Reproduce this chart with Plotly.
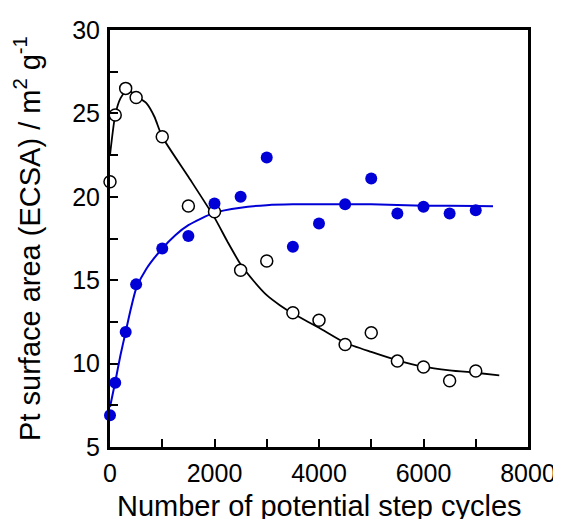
import plotly.graph_objects as go

# Measured data (open circles, black) and (filled circles, blue)
cycles = [0, 100, 300, 500, 1000, 1500, 2000, 2500, 3000, 3500, 4000, 4500, 5000, 5500, 6000, 6500, 7000]
open_ecsa = [20.9, 24.9, 26.5, 25.95, 23.6, 19.45, 19.1, 15.6, 16.15, 13.05, 12.6, 11.15, 11.85, 10.15, 9.8, 8.97, 9.56]
blue_ecsa = [6.9, 8.85, 11.9, 14.75, 16.9, 17.65, 19.6, 20.0, 22.35, 17.0, 18.4, 19.55, 21.1, 19.0, 19.4, 19.0, 19.2]

# Fitted curves
black_fit_x = [0, 100, 200, 300, 400, 500, 700, 850, 1000, 1500, 2000, 2250, 2500, 2750, 3000, 3250, 3500, 4000, 4500, 5000, 5500, 6000, 6500, 7000, 7450]
black_fit_y = [22.5, 24.9, 25.9, 26.3, 26.3, 26.05, 25.6, 24.8, 23.6, 21.2, 18.75, 17.3, 15.95, 14.95, 14.1, 13.5, 13.0, 12.15, 11.25, 10.7, 10.2, 9.82, 9.6, 9.45, 9.3]
blue_fit_x = [0, 100, 200, 300, 400, 500, 700, 1000, 1250, 1500, 2000, 2500, 3000, 3500, 4000, 5000, 6000, 7000, 7330]
blue_fit_y = [7.4, 8.9, 10.5, 11.9, 13.3, 14.5, 15.7, 16.9, 17.7, 18.3, 19.05, 19.35, 19.5, 19.55, 19.55, 19.55, 19.47, 19.45, 19.43]

x_tickvals = [0, 2000, 4000, 6000, 8000]
y_tickvals = [5, 10, 15, 20, 25, 30]
x_title = "Number of potential step cycles"
y_title = "Pt surface area (ECSA) / m<sup>2</sup> g<sup>-1</sup>"

BLUE = "rgb(0,0,215)"
FONT = "Liberation Sans, Arial, sans-serif"

fig = go.Figure()
fig.add_trace(go.Scatter(x=black_fit_x, y=black_fit_y, mode="lines",
                         line=dict(color="black", width=1.8, shape="spline", smoothing=0.6),
                         showlegend=False, hoverinfo="skip"))
fig.add_trace(go.Scatter(x=blue_fit_x, y=blue_fit_y, mode="lines",
                         line=dict(color=BLUE, width=2, shape="spline", smoothing=0.6),
                         showlegend=False, hoverinfo="skip"))
fig.add_trace(go.Scatter(x=cycles, y=open_ecsa, mode="markers",
                         marker=dict(symbol="circle", size=12, color="white",
                                     line=dict(color="black", width=1.5)),
                         showlegend=False, cliponaxis=False))
fig.add_trace(go.Scatter(x=cycles, y=blue_ecsa, mode="markers",
                         marker=dict(symbol="circle", size=12, color=BLUE,
                                     line=dict(color=BLUE, width=0)),
                         showlegend=False, cliponaxis=False))

# the page adds an 8px body margin, so the figure is drawn 8px smaller and offset
fig.update_layout(
    width=553, height=511,
    margin=dict(l=102, r=33, t=22, b=72),
    paper_bgcolor="white", plot_bgcolor="white",
    font=dict(family=FONT, color="black"),
    xaxis=dict(
        range=[0, 8000], tickvals=x_tickvals, ticktext=[str(v) for v in x_tickvals],
        ticks="inside", ticklen=8, tickwidth=2, tickcolor="black",
        minor=dict(dtick=1000, tick0=0, ticks="inside", ticklen=8, tickwidth=2, tickcolor="black"),
        showline=True, linewidth=3, linecolor="black", mirror=True,
        showgrid=False, zeroline=False, automargin=False,
        tickfont=dict(size=25, family=FONT), ticklabelstandoff=2,
    ),
    yaxis=dict(
        range=[5, 30], tickvals=y_tickvals, ticktext=[str(v) for v in y_tickvals],
        ticks="inside", ticklen=8, tickwidth=2, tickcolor="black",
        minor=dict(dtick=2.5, tick0=0, ticks="inside", ticklen=8, tickwidth=2, tickcolor="black"),
        showline=True, linewidth=3, linecolor="black", mirror=True,
        showgrid=False, zeroline=False, automargin=False,
        tickfont=dict(size=25, family=FONT), ticklabelstandoff=2,
        title=dict(text=y_title, font=dict(size=29, family=FONT), standoff=24),
    ),
    annotations=[dict(text=x_title, xref="paper", yref="paper", x=0.5, y=0,
                      xanchor="center", yanchor="top", yshift=-41, showarrow=False,
                      font=dict(size=29, family=FONT, color="black"))],
)

fig.write_html("out.html")
